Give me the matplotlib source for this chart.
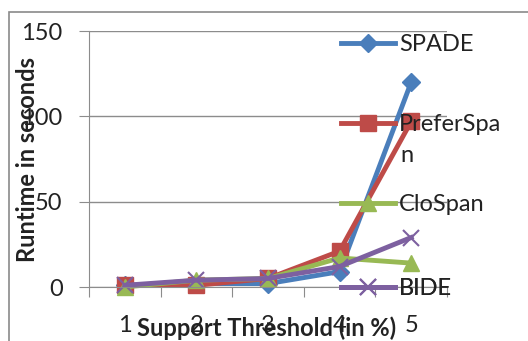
import matplotlib
matplotlib.use("Agg")
import matplotlib.pyplot as plt
from matplotlib.patches import Rectangle
import numpy as np

plt.rcParams['font.family'] = ['Lato', 'DejaVu Sans']

categories = ["1", "2", "3", "4", "5"]
series_names = ["SPADE", "PreferSpa", "CloSpan", "BIDE"]
wrapped_tail = "n"  # wrapped remainder of "PreferSpan"
spade = [1, 2, 2, 9, 120]
preferspan = [1, 1, 5, 21, 97]
clospan = [0, 4, 5, 17, 14]
bide = [1, 4, 5, 12, 29]
yticks = [0, 50, 100, 150]

colors = ["#4A7EBB", "#BE4B48", "#98B954", "#7D60A0"]
markers = ["D", "s", "^", "x"]
msizes = [9, 11, 11, 12]
legend_rows = [43, 123, 203, 287]  # pixel rows of legend entries

W, H = 528, 341
fig = plt.figure(figsize=(W / 100, H / 100), dpi=100)
fig.patches.append(Rectangle((9 / W, -0.1), 1.2, 1 - 12 / H + 0.1, transform=fig.transFigure,
                             fill=False, edgecolor="#8a8a8a", linewidth=1.2))

ax = fig.add_axes([89 / W, 1 - 287 / H, (447 - 89) / W, (287 - 31) / H])
x = np.arange(1, len(categories) + 1)
handles = []
for vals, c, m, ms in zip([spade, preferspan, clospan, bide], colors, markers, msizes):
    mew = 1.5 if m == "x" else 1
    h, = ax.plot(x, vals, color=c, linewidth=3.5, marker=m, markersize=ms,
                 markeredgewidth=mew, markeredgecolor=c, markerfacecolor=c, clip_on=False)
    handles.append(h)

ax.set_xlim(0.5, len(categories) + 0.5)
ax.set_ylim(0, 150)
ax.set_yticks(yticks)
ax.set_yticklabels([str(v) for v in yticks], fontsize=17, color="#222222")
ax.grid(axis="y", color="#8c8c8c", linewidth=1)
ax.set_axisbelow(True)

ax.set_xticks(np.arange(0.5, len(categories) + 1, 1))
ax.set_xticklabels([])
ax.set_xticks(x, minor=True)
ax.set_xticklabels(categories, minor=True, fontsize=17, color="#222222")
ax.tick_params(axis="x", which="major", length=7, color="#8c8c8c", direction="out")
ax.tick_params(axis="x", which="minor", length=0, pad=20)
ax.tick_params(axis="y", length=7, color="#8c8c8c", pad=12)

for s in ["top", "right"]:
    ax.spines[s].set_visible(False)
ax.spines["left"].set_color("#8c8c8c")
ax.spines["bottom"].set_color("#8c8c8c")

ax.set_ylabel("Runtime in seconds", fontsize=17, fontweight="bold", color="#222222")
ax.yaxis.set_label_coords(-50 / (447 - 89), (287 - 159) / (287 - 31))
fig.text(267 / W, 1 - 328 / H, "Support Threshold (in %)", fontsize=17, fontweight="bold",
         color="#222222", ha="center", va="center")

for h, name, row in zip(handles, series_names, legend_rows):
    leg = ax.legend([h], [name], loc="upper left",
                    bbox_to_anchor=(341 / W, 1 - (row - 9) / H), bbox_transform=fig.transFigure,
                    frameon=False, fontsize=17, handlelength=2.3, handletextpad=0.15,
                    borderaxespad=0, borderpad=0)
    for t in leg.get_texts():
        t.set_color("#222222")
    ax.add_artist(leg)

fig.text(400 / W, 1 - 155 / H, wrapped_tail, fontsize=17, color="#222222",
         ha="left", va="center")

fig.savefig("out.png", dpi=100)
